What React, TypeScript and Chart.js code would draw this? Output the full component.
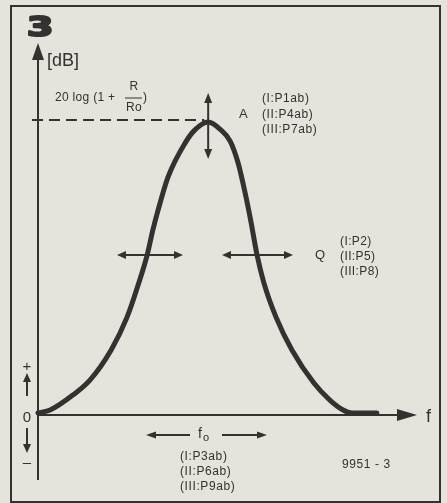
import React, { useEffect, useRef } from "react";
import { Chart, registerables } from "chart.js";

Chart.register(...registerables);

// Relative frequency (0..100 along the f axis) and relative gain (0..100 = peak "A")
const curveX = [0, 3.2, 9.2, 13.7, 19.3, 23.5, 26.6, 28.8, 30.3, 31.7, 34.3, 38.8, 41.4, 44.9, 48.0, 50.7, 52.8, 54.6, 56.2, 57.8, 59.6, 62.8, 67.0, 72.8, 77.0, 80.5, 82.8, 89.4];
const curveY = [0.7, 1.7, 6.8, 11.9, 22.2, 33.4, 45.1, 54.6, 63.1, 70.0, 81.2, 92.8, 97.3, 100, 97.6, 93.5, 86.0, 76.1, 65.9, 54.6, 45.1, 33.4, 22.2, 10.9, 5.1, 1.7, 0.7, 0.7];

const figureNumber = "3";
const yUnit = "[dB]";
const xUnit = "f";
const peakFormula = ["20 log (1 +", "R", "Ro", ")"];
const peakLabels = ["(I:P1ab)", "(II:P4ab)", "(III:P7ab)"];
const qLabels = ["(I:P2)", "(II:P5)", "(III:P8)"];
const f0Labels = ["(I:P3ab)", "(II:P6ab)", "(III:P9ab)"];
const figureCode = "9951 - 3";

const INK = "#353131";
const BG = "#e5e3dc";
const FONT = "'Liberation Sans', Arial, sans-serif";

function head(ctx: CanvasRenderingContext2D, x: number, y: number, ang: number, len: number, w: number) {
  ctx.save();
  ctx.translate(x, y);
  ctx.rotate(ang);
  ctx.beginPath();
  ctx.moveTo(0, 0);
  ctx.lineTo(-len, -w / 2);
  ctx.lineTo(-len, w / 2);
  ctx.closePath();
  ctx.fill();
  ctx.restore();
}

function line(ctx: CanvasRenderingContext2D, x1: number, y1: number, x2: number, y2: number) {
  ctx.beginPath();
  ctx.moveTo(x1, y1);
  ctx.lineTo(x2, y2);
  ctx.stroke();
}

function hDouble(ctx: CanvasRenderingContext2D, x1: number, x2: number, y: number) {
  ctx.lineWidth = 2;
  line(ctx, x1 + 4, y, x2 - 4, y);
  head(ctx, x1, y, Math.PI, 9, 8);
  head(ctx, x2, y, 0, 9, 8);
}

const diagramPlugin = {
  id: "diagram",
  beforeDatasetsDraw(chart: any) {
    const ctx: CanvasRenderingContext2D = chart.ctx;
    const xs = chart.scales.x;
    const ys = chart.scales.y;
    const x0 = xs.getPixelForValue(0);
    const y0 = ys.getPixelForValue(0);
    const xEnd = xs.getPixelForValue(100);
    ctx.save();
    ctx.strokeStyle = INK;
    ctx.fillStyle = INK;
    // frame
    ctx.lineWidth = 2;
    ctx.strokeRect(11, 6, 429, 496);
    // y axis
    ctx.lineWidth = 2;
    line(ctx, x0, 480, x0, 56);
    head(ctx, x0, 43, -Math.PI / 2, 17, 12);
    // x axis
    line(ctx, x0, y0, xEnd - 16, y0);
    head(ctx, xEnd, y0, 0, 20, 12);
    // dashed peak line
    const yPeak = ys.getPixelForValue(100);
    const xPeak = xs.getPixelForValue(44.9);
    ctx.setLineDash([11, 6]);
    line(ctx, x0 - 6, yPeak - 2, xPeak - 4, yPeak - 2);
    ctx.setLineDash([]);
    ctx.restore();
  },
  afterDraw(chart: any) {
    const ctx: any = chart.ctx;
    const xs = chart.scales.x;
    const ys = chart.scales.y;
    const y0 = ys.getPixelForValue(0);
    const xPeak = xs.getPixelForValue(44.9);
    const yPeak = ys.getPixelForValue(100);
    ctx.save();
    ctx.strokeStyle = INK;
    ctx.fillStyle = INK;
    ctx.textBaseline = "middle";

    // figure number
    ctx.save();
    ctx.font = `bold 27px 'DejaVu Sans', sans-serif`;
    ctx.translate(27, 29);
    ctx.scale(1.4, 1);
    ctx.textAlign = "left";
    ctx.lineWidth = 2.2;
    ctx.lineJoin = "round";
    ctx.fillText(figureNumber, 0, 0);
    ctx.strokeText(figureNumber, 0, 0);
    ctx.restore();

    // units
    ctx.font = `18px ${FONT}`;
    ctx.textAlign = "left";
    ctx.fillText(yUnit, 47, 61);
    ctx.fillText(xUnit, xs.getPixelForValue(100) + 9, y0 + 2);

    // formula
    ctx.font = `12px ${FONT}`;
    ctx.letterSpacing = "0.3px";
    ctx.fillText(peakFormula[0], 55, 98);
    ctx.textAlign = "center";
    ctx.fillText(peakFormula[1], 134, 87);
    ctx.fillText(peakFormula[2], 134, 108);
    ctx.lineWidth = 1;
    line(ctx, 125, 98, 142, 98);
    ctx.textAlign = "left";
    ctx.fillText(peakFormula[3], 143, 98);

    // peak vertical double arrow
    ctx.lineWidth = 2;
    line(ctx, xPeak, yPeak - 24, xPeak, yPeak + 30);
    head(ctx, xPeak, yPeak - 29, -Math.PI / 2, 10, 8);
    head(ctx, xPeak, yPeak + 37, Math.PI / 2, 10, 8);

    // A labels
    ctx.letterSpacing = "0px";
    ctx.font = `13px ${FONT}`;
    ctx.fillText("A", 239, 114);
    ctx.font = `12px ${FONT}`;
    ctx.letterSpacing = "0.6px";
    peakLabels.forEach((t, i) => ctx.fillText(t, 262, 99 + i * 15.5));

    // Q arrows
    const yQ = ys.getPixelForValue(54.6);
    hDouble(ctx, 117, 183, yQ);
    hDouble(ctx, 222, 293, yQ);
    ctx.letterSpacing = "0px";
    ctx.font = `13px ${FONT}`;
    ctx.fillText("Q", 315, yQ);
    ctx.font = `12px ${FONT}`;
    ctx.letterSpacing = "0.4px";
    qLabels.forEach((t, i) => ctx.fillText(t, 340, yQ - 13 + i * 15));

    // left + / 0 / - indicators
    ctx.letterSpacing = "0px";
    ctx.textAlign = "center";
    ctx.font = `15px ${FONT}`;
    ctx.fillText("+", 27, 367);
    ctx.fillText("0", 27, y0 + 3);
    ctx.fillText("\u2013", 27, 463);
    ctx.lineWidth = 2;
    line(ctx, 27, 396, 27, 380);
    head(ctx, 27, 373, -Math.PI / 2, 9, 8);
    line(ctx, 27, 428, 27, 445);
    head(ctx, 27, 453, Math.PI / 2, 9, 8);

    // f0 arrows
    const yF = y0 + 20;
    ctx.lineWidth = 2;
    line(ctx, 152, yF, 190, yF);
    head(ctx, 146, yF, Math.PI, 10, 7);
    line(ctx, 222, yF, 260, yF);
    head(ctx, 267, yF, 0, 10, 7);
    ctx.font = `14px ${FONT}`;
    ctx.textAlign = "left";
    ctx.fillText("f", 198, yF - 1);
    ctx.font = `11px ${FONT}`;
    ctx.fillText("o", 203, yF + 3);
    ctx.font = `12px ${FONT}`;
    ctx.letterSpacing = "0.6px";
    f0Labels.forEach((t, i) => ctx.fillText(t, 180, 457 + i * 15));

    ctx.fillText(figureCode, 342, 465);
    ctx.restore();
  },
};

export default function App() {
  const ref = useRef<HTMLCanvasElement | null>(null);
  useEffect(() => {
    if (!ref.current) return;
    const chart = new Chart(ref.current, {
      type: "line",
      data: {
        datasets: [
          {
            data: curveX.map((x, i) => ({ x, y: curveY[i] })),
            borderColor: INK,
            borderWidth: 5,
            pointRadius: 0,
            cubicInterpolationMode: "monotone",
            borderCapStyle: "round",
            borderJoinStyle: "round",
            clip: false as any,
            fill: false,
          },
        ],
      },
      options: {
        responsive: false,
        animation: false,
        devicePixelRatio: 1,
        layout: { padding: { left: 38, right: 30, top: 122, bottom: 88 } },
        plugins: { legend: { display: false }, tooltip: { enabled: false }, title: { display: false } },
        scales: {
          x: { type: "linear", min: 0, max: 100, display: false },
          y: { min: 0, max: 100, display: false },
        },
      },
      plugins: [diagramPlugin],
    } as any);
    return () => chart.destroy();
  }, []);
  return (
    <div style={{ position: "absolute", left: 0, top: 0, width: 447, height: 503, background: BG }}>
      <canvas ref={ref} width={447} height={503} />
    </div>
  );
}
